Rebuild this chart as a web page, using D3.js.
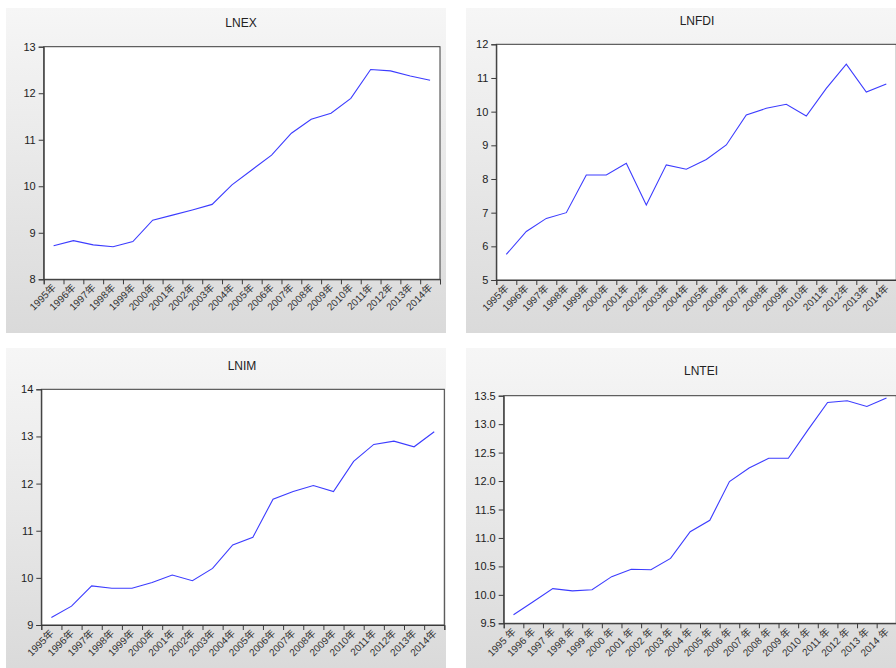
<!DOCTYPE html>
<html>
<head>
<meta charset="utf-8">
<script src="https://cdn.jsdelivr.net/npm/d3@7"></script>
<style>
  body { margin: 0; background: #fff; }
  svg { display: block; font-family: "Liberation Sans", Arial, "Noto Sans CJK SC", sans-serif; }
</style>
</head>
<body>
<svg width="896" height="668"></svg>
<script>
// years on the x axis
let years = d3.range(1995, 2015);

let lnex = [8.72, 8.83, 8.74, 8.70, 8.81, 9.27, 9.38, 9.49, 9.61, 10.03,
            10.35, 10.67, 11.14, 11.44, 11.57, 11.89, 12.51, 12.48, 12.37, 12.28];
let lnfdi = [5.76, 6.44, 6.83, 7.00, 8.12, 8.12, 8.47, 7.23, 8.42, 8.29,
             8.58, 9.01, 9.90, 10.10, 10.22, 9.87, 10.69, 11.41, 10.58, 10.82];
let lnim = [9.16, 9.40, 9.83, 9.78, 9.78, 9.90, 10.06, 9.94, 10.20, 10.70,
            10.86, 11.67, 11.83, 11.96, 11.83, 12.47, 12.83, 12.90, 12.78, 13.10];
let lntei = [9.65, 9.88, 10.11, 10.07, 10.09, 10.32, 10.45, 10.44, 10.64, 11.11,
             11.31, 11.99, 12.23, 12.40, 12.40, 12.90, 13.38, 13.41, 13.31, 13.46];

let ticksEX = [8, 9, 10, 11, 12, 13];
let ticksFDI = [5, 6, 7, 8, 9, 10, 11, 12];
let ticksIM = [9, 10, 11, 12, 13, 14];
let ticksTEI = [9.5, 10.0, 10.5, 11.0, 11.5, 12.0, 12.5, 13.0, 13.5];

let svg = d3.select('svg');

let defs = svg.append('defs');
let grad = defs.append('linearGradient').attr('id', 'bg').attr('x1', 0).attr('y1', 0).attr('x2', 0).attr('y2', 1);
grad.append('stop').attr('offset', '0%').attr('stop-color', '#f6f6f6');
grad.append('stop').attr('offset', '100%').attr('stop-color', '#dadada');

function drawPanel(p) {
    let g = svg.append('g');
    // gray panel background
    g.append('rect')
        .attr('x', p.bx).attr('y', p.by).attr('width', p.bw).attr('height', p.bh)
        .attr('fill', 'url(#bg)');

    let x = d3.scaleLinear().domain([0, years.length]).range([p.left, p.right]);
    let y = d3.scaleLinear().domain(p.ydom).range([p.bottom, p.top]);

    g.append('rect')
        .attr('x', p.left).attr('y', p.top)
        .attr('width', p.right - p.left).attr('height', p.bottom - p.top)
        .attr('fill', '#fff').attr('stroke', '#3a3a3a').attr('stroke-width', 1);

    // title
    g.append('text')
        .attr('x', p.tx).attr('y', p.ty)
        .attr('text-anchor', 'middle').attr('font-size', 12).attr('fill', '#222')
        .text(p.title);

    // y axis
    let yAxis = d3.axisLeft(y).tickValues(p.yticks).tickSize(5).tickPadding(3)
        .tickFormat(p.yfmt);
    let ya = g.append('g').attr('transform', 'translate(' + p.left + ',0)').call(yAxis);
    ya.select('.domain').attr('stroke', '#3a3a3a');
    ya.selectAll('.tick line').attr('stroke', '#3a3a3a');
    ya.selectAll('.tick text').attr('font-size', 11).attr('fill', '#222')
        .attr('font-family', '"Liberation Sans", Arial, sans-serif');

    // x axis: ticks at boundaries, labels at centres
    let xAxis = d3.axisBottom(x).tickValues(d3.range(years.length + 1)).tickSize(5).tickFormat('');
    let xa = g.append('g').attr('transform', 'translate(0,' + p.bottom + ')').call(xAxis);
    xa.select('.domain').attr('stroke', '#3a3a3a');
    xa.selectAll('.tick line').attr('stroke', '#3a3a3a');

    g.append('g').selectAll('text')
        .data(years)
        .join('text')
        .attr('transform', (d, i) => 'translate(' + (x(i + 0.5) + 3) + ',' + (p.bottom + 9) + ') rotate(-45)')
        .attr('text-anchor', 'end')
        .attr('font-size', 10)
        .attr('fill', '#333')
        .text(d => d + p.suffix);

    // series line
    let line = d3.line().x((d, i) => x(i + 0.5)).y(d => y(d));
    g.append('path')
        .datum(p.values)
        .attr('d', line)
        .attr('fill', 'none')
        .attr('stroke', '#3c3cff')
        .attr('stroke-width', 1.1);
}

drawPanel({title: 'LNEX', values: lnex, ydom: [8, 13], yticks: ticksEX, yfmt: d3.format('d'), suffix: '年',
    bx: 6, by: 8, bw: 440, bh: 325, left: 43.7, right: 440, top: 46.7, bottom: 279.3, tx: 241, ty: 27});
drawPanel({title: 'LNFDI', values: lnfdi, ydom: [5, 12], yticks: ticksFDI, yfmt: d3.format('d'), suffix: '年',
    bx: 466, by: 8, bw: 430, bh: 325, left: 496.3, right: 896.3, top: 44.3, bottom: 280, tx: 697, ty: 25});
drawPanel({title: 'LNIM', values: lnim, ydom: [9, 14], yticks: ticksIM, yfmt: d3.format('d'), suffix: '年',
    bx: 6, by: 348, bw: 440, bh: 320, left: 41.3, right: 444.3, top: 389.3, bottom: 625, tx: 242, ty: 370});
drawPanel({title: 'LNTEI', values: lntei, ydom: [9.5, 13.5], yticks: ticksTEI, yfmt: d3.format('.1f'), suffix: ' 年',
    bx: 466, by: 348, bw: 430, bh: 320, left: 503.7, right: 896.3, top: 395.7, bottom: 623.3, tx: 701, ty: 375});
</script>
</body>
</html>
